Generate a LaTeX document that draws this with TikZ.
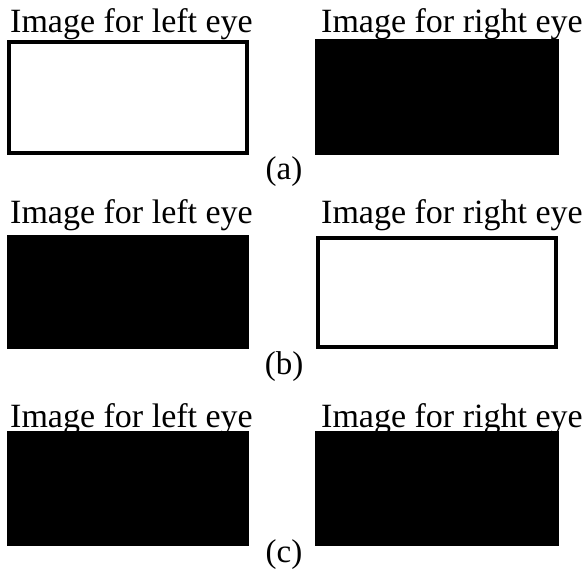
\documentclass[tikz,border=0pt]{standalone}
\usepackage{fontspec}
\setmainfont{Liberation Serif}
\begin{document}
\begin{tikzpicture}[x=1pt,y=-1pt,
  lbl/.style={anchor=base west,inner sep=0pt,font=\fontsize{34}{40}\selectfont},
  tag/.style={anchor=base,inner sep=0pt,font=\fontsize{33}{40}\selectfont},
  blackbox/.style={fill=black},
  whitebox/.style={draw=black,line width=4.2pt,fill=white}]
\path[use as bounding box,fill=white] (0,0) rectangle (584,577);
% row (a)
\node[lbl] (al) at (10,32.5) {Image for left eye};
\node[lbl] (ar) at (321,32.5) {Image for right eye};
\path[whitebox] (9.1,42.1) rectangle (246.9,152.9);
\path[blackbox] (315,39.5) rectangle (559,155);
\node[tag] (ta) at (284,180) {(a)};
% row (b)
\node[lbl] (bl) at (10,223.5) {Image for left eye};
\node[lbl] (br) at (321,224) {Image for right eye};
\path[blackbox] (7,235) rectangle (249,349);
\path[whitebox] (318.1,238.1) rectangle (555.9,346.9);
\node[tag] (tb) at (284,375) {(b)};
% row (c)
\node[lbl] (cl) at (10,428) {Image for left eye};
\node[lbl] (cr) at (321,428) {Image for right eye};
\path[blackbox] (7,430.5) rectangle (249,546);
\path[blackbox] (315,430.5) rectangle (559,546);
\node[tag] (tc) at (284,562) {(c)};
\end{tikzpicture}
\end{document}
